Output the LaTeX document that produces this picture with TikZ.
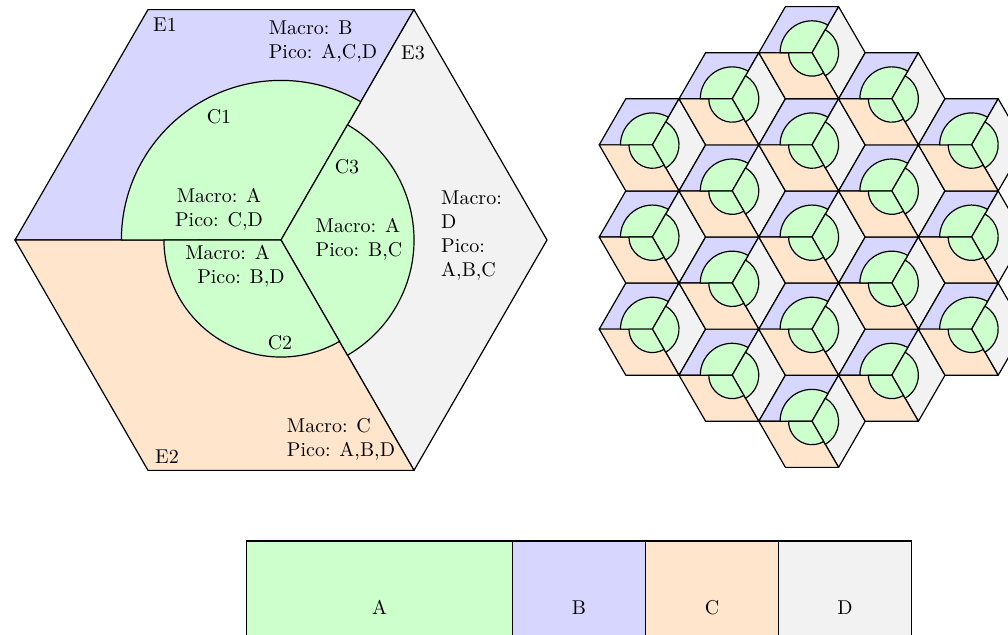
\documentclass[tikz,border=0pt]{standalone}
\usetikzlibrary{positioning}

\definecolor{macroA}{RGB}{204,255,204}
\definecolor{macroB}{RGB}{214,214,255}
\definecolor{macroC}{RGB}{255,229,204}
\definecolor{macroD}{RGB}{242,242,242}

\tikzset{
  sect/.style={draw=black,line width=0.6pt,line join=round},
  lbl/.style={inner sep=0pt,align=left},
  bar/.style={draw=black,line width=0.6pt,outer sep=0pt,minimum height=66.5pt,inner sep=0pt},
}

% one cell: three macro sectors and three small cells
\newcommand{\hexcell}[3]{%
  \begin{scope}[shift={(#1,#2)},scale=#3]
    \filldraw[sect,fill=macroB] (0,0) -- (180:1) -- (120:1) -- (60:1) -- cycle;
    \filldraw[sect,fill=macroD] (0,0) -- (60:1) -- (0:1) -- (-60:1) -- cycle;
    \filldraw[sect,fill=macroC] (0,0) -- (-60:1) -- (-120:1) -- (180:1) -- cycle;
    \filldraw[sect,fill=macroA] (0,0) -- (180:0.6) arc[start angle=180,end angle=60,radius=0.6] -- cycle;
    \filldraw[sect,fill=macroA] (0,0) -- (60:0.5) arc[start angle=60,end angle=-60,radius=0.5] -- cycle;
    \filldraw[sect,fill=macroA] (0,0) -- (-60:0.44) arc[start angle=-60,end angle=-180,radius=0.44] -- cycle;
  \end{scope}}

\begin{document}
\begin{tikzpicture}[x=5pt,y=5pt]
\useasboundingbox (0,0) rectangle (100.8,63.4);
\clip (0,0) rectangle (100.8,63.4);

% big cell
\hexcell{28.1}{39.4}{26.6}

\node[lbl] (e1) at (16.5,60.9) {E1};
\node[lbl] (e2) at (16.7,17.7) {E2};
\node[lbl] (e3) at (41.3,58.1) {E3};
\node[lbl] (c1) at (21.9,51.7) {C1};
\node[lbl] (c2) at (28.0,29.1) {C2};
\node[lbl] (c3) at (34.7,46.7) {C3};

\node[lbl] (macB) at (32.3,59.2) {Macro: B\\Pico: A,C,D};
\node[lbl] (macC) at (34.1,19.45) {Macro: C\\Pico: A,B,D};
\node[lbl] (macD) at (47.15,39.85) {Macro:\\D\\Pico:\\A,B,C};
\node[lbl,align=center] (macA1) at (21.9,42.45) {Macro: A\\Pico: C,D};
\node[lbl] (macA2) at (23.5,36.75) {Macro: A\\\hspace*{6pt}Pico: B,D};
\node[lbl] (macA3) at (35.9,39.45) {Macro: A\\Pico: B,C};

% tiling of cells
\foreach \q/\n in {-2/3,-1/4,0/5,1/4,2/3}{
  \foreach \k in {1,...,\n}{
    \pgfmathsetmacro\cx{81.2+7.98*\q}
    \pgfmathsetmacro\cy{39.7+4.607*(2*\k-\n-1)}
    \hexcell{\cx}{\cy}{5.32}
  }
}

% bandwidth split
\node[bar,fill=macroA,minimum width=133pt,anchor=north west] (A) at (24.65,9.3) {A};
\node[bar,fill=macroB,minimum width=66.5pt,right=0pt of A] (B) {B};
\node[bar,fill=macroC,minimum width=66.5pt,right=0pt of B] (C) {C};
\node[bar,fill=macroD,minimum width=66.5pt,right=0pt of C] (D) {D};
\end{tikzpicture}
\end{document}
